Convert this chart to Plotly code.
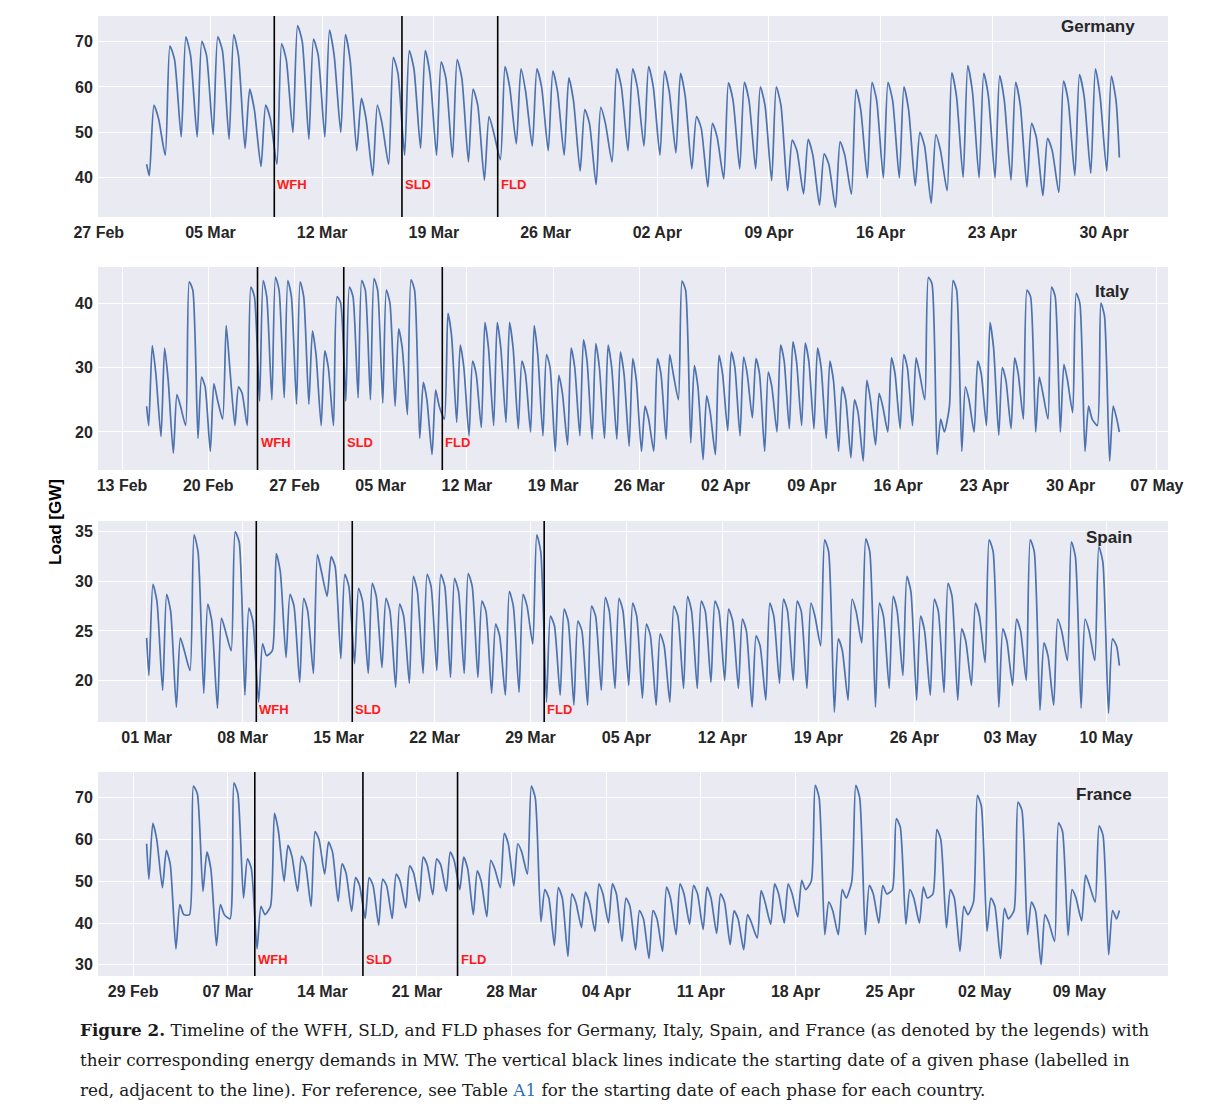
import plotly.graph_objects as go
from datetime import datetime, timedelta

# ---------------- data (GW): daily night trough, late-morning peak, evening level ----------------
phase_names = ["WFH", "SLD", "FLD"]

deu_first_day = "2020-03-01"
deu_first, deu_last = 43.0, 44.5
deu_lo = [40.5, 45, 49, 49, 49.5, 48.5, 46.5, 42.5, 43, 50, 48.5, 49, 50, 46, 40.5, 43,
          45, 46.5, 45, 44.5, 43.5, 39.5, 44, 47.5, 47, 46, 45, 41.5, 38.5, 43.5, 46,
          47, 45, 45.5, 42, 38, 39.8, 42, 42, 39.4, 37.2, 36.5, 34, 33.5, 36.4, 40, 40,
          40, 38.3, 34.4, 37.2, 40.1, 40, 40, 39.5, 38, 36.1, 36.8, 40.5, 41, 41.5]
deu_hi = [56, 69, 71, 70, 71, 71.5, 59.5, 56, 69.5, 73.5, 70.5, 72.5, 71.5, 57.5, 56, 66.5,
          68, 68, 65.5, 66, 59.5, 53.5, 64.5, 64, 64, 63.5, 62, 55, 55.5, 64, 64,
          64.5, 63.5, 63, 53.5, 52, 60.9, 61, 60, 60, 48.3, 48.5, 45.3, 48, 59.4, 61, 61,
          60, 50, 49.5, 63.1, 64.7, 63, 62.5, 61, 52, 48.7, 61.3, 62.7, 64, 62.4]
deu_ev = [53, 66, 67, 67, 68, 67, 55, 53, 66, 70, 67, 67, 66, 53, 52, 63,
          64, 63, 62, 62, 56, 50, 60, 59, 60, 59, 57, 52, 52, 60, 60,
          60, 59, 58, 51, 49, 57, 57, 56, 56, 46, 45, 43, 45, 55, 57, 57,
          55, 47, 46, 58, 59, 58, 57, 56, 49, 46, 57, 58, 58, 57]
deu_phases = ["2020-03-09", "2020-03-17", "2020-03-23"]
deu_label_y = 38.5
deu_ticks = ["2020-02-27", "2020-03-05", "2020-03-12", "2020-03-19", "2020-03-26",
             "2020-04-02", "2020-04-09", "2020-04-16", "2020-04-23", "2020-04-30"]
deu_ticklabels = ["27 Feb", "05 Mar", "12 Mar", "19 Mar", "26 Mar",
                  "02 Apr", "09 Apr", "16 Apr", "23 Apr", "30 Apr"]
deu_yticks = [40, 50, 60, 70]

ita_first_day = "2020-02-15"
ita_first, ita_last = 24.0, 20.0
ita_lo = [21, 19.3, 16.7, 21, 19, 17, 22, 21, 21, 24.8, 25, 25.3, 24.3, 24.3, 21,
          21, 24.8, 25.3, 25, 24.5, 24, 22.7, 19, 16.5, 22, 21.5, 19.4, 20.7, 21, 21.5,
          20.5, 20, 19.4, 17, 18, 19.4, 18.9, 19, 18.9, 17.8, 17, 17, 18.9, 25, 18.3, 15.7,
          16.5, 20.2, 19.4, 22.2, 17, 20, 20.5, 21, 20.5, 19, 17, 16, 15.5, 18, 20, 20.5,
          21, 25, 16.5, 24, 17, 20, 21, 19.5, 20.5, 22, 20, 22, 20, 23,
          17, 21, 15.5]
ita_hi = [33.4, 33, 25.8, 43.3, 28.5, 27.5, 36.5, 27, 42.5, 43.5, 44, 43.5, 43.3, 35.7, 32.6,
          41, 42.5, 43.5, 43.8, 42, 36, 43.6, 27.7, 26.5, 38.4, 33.5, 31, 37, 37, 37,
          31, 36.5, 32, 28.8, 33, 34.3, 33.7, 33.5, 32.4, 31.4, 24, 31.4, 32, 43.4, 30.3, 25.6,
          31.9, 32.4, 31.6, 31.4, 29.3, 33.5, 34, 33.8, 33, 31, 27, 25, 28, 26, 31.5, 32,
          31.5, 44, 22, 43.5, 27, 31, 37, 30, 31.5, 42, 28.5, 42.5, 30.5, 41.5,
          24, 40, 24]
ita_ev = [29, 28, 24, 42, 27, 25, 30, 26, 41, 41, 42, 41, 41, 32, 30,
          40, 41, 42, 42, 40, 33, 42, 25, 24, 35, 30, 29, 33, 33, 33,
          29, 32, 30, 26, 30, 31, 30, 30, 29, 28, 22, 29, 29, 42, 27, 23,
          29, 30, 29, 29, 27, 31, 31, 31, 30, 28, 25, 23, 25, 24, 29, 30,
          29, 43, 20, 42, 25, 29, 33, 28, 29, 41, 26, 41, 28, 40,
          22, 38, 22]
ita_phases = ["2020-02-24", "2020-03-02", "2020-03-10"]
ita_label_y = 18.3
ita_ticks = ["2020-02-13", "2020-02-20", "2020-02-27", "2020-03-05", "2020-03-12",
             "2020-03-19", "2020-03-26", "2020-04-02", "2020-04-09", "2020-04-16",
             "2020-04-23", "2020-04-30", "2020-05-07"]
ita_ticklabels = ["13 Feb", "20 Feb", "27 Feb", "05 Mar", "12 Mar", "19 Mar", "26 Mar",
                  "02 Apr", "09 Apr", "16 Apr", "23 Apr", "30 Apr", "07 May"]
ita_yticks = [20, 30, 40]

esp_first_day = "2020-03-01"
esp_first, esp_last = 24.3, 21.5
esp_lo = [20.5, 19, 17.3, 21, 18.7, 17.2, 23, 18.5, 17.8, 23, 22.3, 19.8, 20.7, 28.5, 22.2,
          21.7, 20.7, 21.3, 19.3, 19.7, 20.7, 21, 20.3, 20.7, 20.3, 18.7, 18.5, 18.8, 23.7,
          17.8, 18.5, 17.5, 17.5, 19, 19.2, 19.5, 18.2, 17.5, 17.8, 19.2, 19.2, 19.8, 20,
          19.2, 17.3, 18, 19.7, 20, 19.2, 23.5, 16.8, 18, 23.8, 17.3, 19.2, 20.5, 18, 18.5,
          18.8, 18, 19.5, 21.8, 17.3, 19.5, 20, 17, 17.5, 22, 17.2, 22, 16.7]
esp_hi = [29.7, 28.7, 24.3, 34.7, 27.7, 26.3, 35, 27.3, 23.7, 32.8, 28.7, 28.3, 32.7, 32.5, 30.7,
          29.3, 29.8, 28.3, 27.7, 30.5, 30.7, 30.7, 30.3, 30.8, 28, 25.7, 29, 28.7, 34.7,
          26.5, 27.2, 26, 27.5, 28.4, 28.3, 27.8, 25.7, 24.7, 27.5, 28.5, 28, 28, 27.2,
          26.2, 24.5, 27.8, 28.2, 28, 27.8, 34.2, 24.2, 28.2, 34.3, 27.8, 28.5, 30.5, 26.5, 28.2,
          29.8, 25.2, 27.8, 34.2, 25.2, 26.2, 34.2, 23.8, 26.2, 34, 26.2, 33.5, 24.2]
esp_ev = [28, 27, 23, 33, 26, 25, 34, 26, 22.5, 31, 27.5, 27, 31, 31.5, 29.5,
          28, 28.5, 27, 26.5, 29, 29.5, 29.5, 29, 29.5, 27, 24.5, 27.5, 27.5, 33,
          25.5, 26, 25, 26.5, 27, 27, 26.5, 24.5, 23.5, 26.5, 27, 27, 27, 26,
          25, 23.5, 26.5, 27, 27, 26.5, 33, 23, 27, 33, 26.5, 27, 29, 25, 27,
          28.5, 24, 26.5, 33, 24, 25, 33, 22.5, 25, 32.5, 25, 32, 23.5]
esp_phases = ["2020-03-09", "2020-03-16", "2020-03-30"]
esp_label_y = 17.1
esp_ticks = ["2020-03-01", "2020-03-08", "2020-03-15", "2020-03-22", "2020-03-29",
             "2020-04-05", "2020-04-12", "2020-04-19", "2020-04-26", "2020-05-03",
             "2020-05-10"]
esp_ticklabels = ["01 Mar", "08 Mar", "15 Mar", "22 Mar", "29 Mar", "05 Apr", "12 Apr",
                  "19 Apr", "26 Apr", "03 May", "10 May"]
esp_yticks = [20, 25, 30, 35]

fra_first_day = "2020-03-01"
fra_first, fra_last = 59.0, 43.0
fra_lo = [50.5, 48.5, 33.8, 42, 47.6, 34.6, 41, 46, 33.8, 44, 50, 47.6, 44, 51.7, 45.2, 42.8,
          41.1, 39.5, 41.1, 43.6, 45.2, 46.8, 47.6, 48, 42, 41.5, 48.5, 48.9, 51.7, 40.3, 34.6,
          32, 38.9, 38, 40, 35.6, 33.6, 31.5, 33.2, 37.2, 39.7, 38.5, 37.5, 34.8, 33.6, 36.4,
          39.7, 40, 41.5, 50, 37.2, 37.2, 50, 37.2, 40, 48, 39.7, 40, 47, 38.9, 33.2,
          45, 38, 31.5, 43, 37.2, 30, 35.6, 37, 40.5, 45, 32.4]
fra_hi = [63.9, 57.4, 44.4, 72.8, 57, 44.4, 73.6, 55.4, 44, 66.3, 58.6, 56, 61.9, 59.4, 54.2, 50.9,
          50.9, 50.5, 51.7, 53.7, 55.8, 55.4, 57, 55.8, 52.5, 55, 61.5, 59, 72.8, 48, 48.5,
          47, 47.4, 49.4, 49.4, 46, 43, 43, 48.6, 49.4, 49, 48.6, 47, 42.9, 42, 47.8,
          49.4, 49.4, 50.2, 73, 45, 48, 73, 49, 49, 65, 48, 48.6, 62.4, 48, 44,
          70.6, 46, 43.5, 69, 45, 42, 64, 48, 51.5, 63.3, 43]
fra_ev = [60, 54, 42, 71, 53, 42, 71, 53, 42, 62, 56, 54, 60, 57, 52, 49,
          49, 49, 50, 52, 54, 54, 55, 53, 50, 53, 59, 57, 70, 46, 46,
          45, 45, 47, 47, 44, 41, 41, 46, 47, 47, 46, 45, 41, 40, 45,
          47, 47, 48, 70, 43, 46, 70, 47, 47, 63, 46, 46, 60, 46, 42,
          68, 44, 41, 67, 43, 40, 62, 46, 49, 61, 41]
fra_phases = ["2020-03-09", "2020-03-17", "2020-03-24"]
fra_label_y = 31.2
fra_ticks = ["2020-02-29", "2020-03-07", "2020-03-14", "2020-03-21", "2020-03-28",
             "2020-04-04", "2020-04-11", "2020-04-18", "2020-04-25", "2020-05-02",
             "2020-05-09"]
fra_ticklabels = ["29 Feb", "07 Mar", "14 Mar", "21 Mar", "28 Mar", "04 Apr", "11 Apr",
                  "18 Apr", "25 Apr", "02 May", "09 May"]
fra_yticks = [30, 40, 50, 60, 70]

panels = [
    dict(name="Germany", day=deu_first_day, first=deu_first, last=deu_last, lo=deu_lo, hi=deu_hi,
         ev=deu_ev, phases=deu_phases, label_y=deu_label_y, ticks=deu_ticks,
         ticklabels=deu_ticklabels, yticks=deu_yticks, yrange=[31.4, 75.6],
         top=16, bottom=217, name_y=0.95, name_x=0.971),
    dict(name="Italy", day=ita_first_day, first=ita_first, last=ita_last, lo=ita_lo, hi=ita_hi,
         ev=ita_ev, phases=ita_phases, label_y=ita_label_y, ticks=ita_ticks,
         ticklabels=ita_ticklabels, yticks=ita_yticks, yrange=[14.1, 45.6],
         top=267, bottom=470, name_y=0.877, name_x=0.966),
    dict(name="Spain", day=esp_first_day, first=esp_first, last=esp_last, lo=esp_lo, hi=esp_hi,
         ev=esp_ev, phases=esp_phases, label_y=esp_label_y, ticks=esp_ticks,
         ticklabels=esp_ticklabels, yticks=esp_yticks, yrange=[15.8, 36.1],
         top=521, bottom=722, name_y=0.92, name_x=0.968),
    dict(name="France", day=fra_first_day, first=fra_first, last=fra_last, lo=fra_lo, hi=fra_hi,
         ev=fra_ev, phases=fra_phases, label_y=fra_label_y, ticks=fra_ticks,
         ticklabels=fra_ticklabels, yticks=fra_yticks, yrange=[27.3, 76.2],
         top=772, bottom=976, name_y=0.892, name_x=0.968),
]

W, H = 1207, 1115
LEFT, RIGHT = 98, 1168
LINE_COLOR = "#4C72B0"
TXT = "#262626"


def build_series(first_day, lo, hi, ev, v_first, v_last):
    d0 = datetime.fromisoformat(first_day)
    xs, ys = [d0], [v_first]
    for i, (a, b, c) in enumerate(zip(lo, hi, ev)):
        d = d0 + timedelta(days=i)
        xs += [d + timedelta(hours=4), d + timedelta(hours=11), d + timedelta(hours=18)]
        ys += [a, b, c]
    xs.append(d0 + timedelta(days=len(lo) - 1, hours=23))
    ys.append(v_last)
    return xs, ys


fig = go.Figure()
layout = dict(template="none", width=W, height=H, margin=dict(l=0, r=0, t=0, b=0, pad=0),
              paper_bgcolor="white", plot_bgcolor="#EAEAF2", showlegend=False)
shapes, annotations = [], []

for k, p in enumerate(panels):
    n = "" if k == 0 else str(k + 1)
    xs, ys = build_series(p["day"], p["lo"], p["hi"], p["ev"], p["first"], p["last"])
    fig.add_trace(go.Scatter(x=xs, y=ys, mode="lines", xaxis="x" + n, yaxis="y" + n,
                             line=dict(color=LINE_COLOR, width=1.7, shape="spline", smoothing=0.6),
                             hoverinfo="skip"))
    span = xs[-1] - xs[0]
    pad = span * 0.05
    xr = [(xs[0] - pad).isoformat(), (xs[-1] + pad).isoformat()]
    layout["xaxis" + n] = dict(
        domain=[LEFT / W, RIGHT / W], anchor="y" + n, type="date", range=xr, automargin=False,
        tickvals=p["ticks"], ticktext=p["ticklabels"], showgrid=True, gridcolor="white",
        gridwidth=1.3, zeroline=False, showline=False, ticks="outside", ticklen=1,
        tickcolor="rgba(0,0,0,0)",
        tickfont=dict(family="Liberation Sans", size=16, color=TXT, weight="bold"))
    layout["yaxis" + n] = dict(
        domain=[1 - p["bottom"] / H, 1 - p["top"] / H], anchor="x" + n, range=p["yrange"],
        automargin=False, tickvals=p["yticks"], showgrid=True, gridcolor="white", gridwidth=1.3,
        zeroline=False, showline=False, ticks="outside", ticklen=1,
        tickcolor="rgba(0,0,0,0)",
        tickfont=dict(family="Liberation Sans", size=16, color=TXT, weight="bold"))
    xref = "x" + n
    yref = "y" + n
    for ph, lab in zip(p["phases"], phase_names):
        shapes.append(dict(type="line", xref=xref, yref=yref + " domain", x0=ph, x1=ph,
                           y0=0, y1=1, line=dict(color="black", width=1.6)))
        annotations.append(dict(x=ph, y=p["label_y"], xref=xref, yref=yref, text=lab,
                                showarrow=False, xanchor="left", xshift=1,
                                font=dict(family="Liberation Sans", size=13, color="#ff1a1a",
                                          weight="bold")))
    annotations.append(dict(x=p["name_x"], y=p["name_y"], xref=xref + " domain",
                            yref=yref + " domain", text=p["name"], showarrow=False,
                            xanchor="right", yanchor="middle",
                            font=dict(family="Liberation Sans", size=17, color=TXT,
                                      weight="bold")))

annotations.append(dict(x=55 / W, y=1 - 522 / H, xref="paper", yref="paper",
                        text="Load [GW]", textangle=-90, showarrow=False,
                        xanchor="center", yanchor="middle",
                        font=dict(family="Liberation Sans", size=17, color="black",
                                  weight="bold")))

caption_lines = [
    "<b>Figure 2.</b> Timeline of the WFH, SLD, and FLD phases for Germany, Italy, Spain, and France (as denoted by the legends) with",
    "their corresponding energy demands in MW. The vertical black lines indicate the starting date of a given phase (labelled in",
    "red, adjacent to the line). For reference, see Table <span style='color:#2f6db5'>A1</span> for the starting date of each phase for each country.",
]
caption_y = [1030, 1060, 1090]
for line, yy in zip(caption_lines, caption_y):
    annotations.append(dict(x=78 / W, y=1 - yy / H, xref="paper", yref="paper", text=line,
                            showarrow=False, xanchor="left", yanchor="middle",
                            font=dict(family="DejaVu Serif", size=16.8, color="#1a1a1a")))

layout["shapes"] = shapes
layout["annotations"] = annotations
fig.update_layout(**layout)
fig.write_html("out.html", config={"displayModeBar": False},
               post_script="document.body.style.margin='0px';")
